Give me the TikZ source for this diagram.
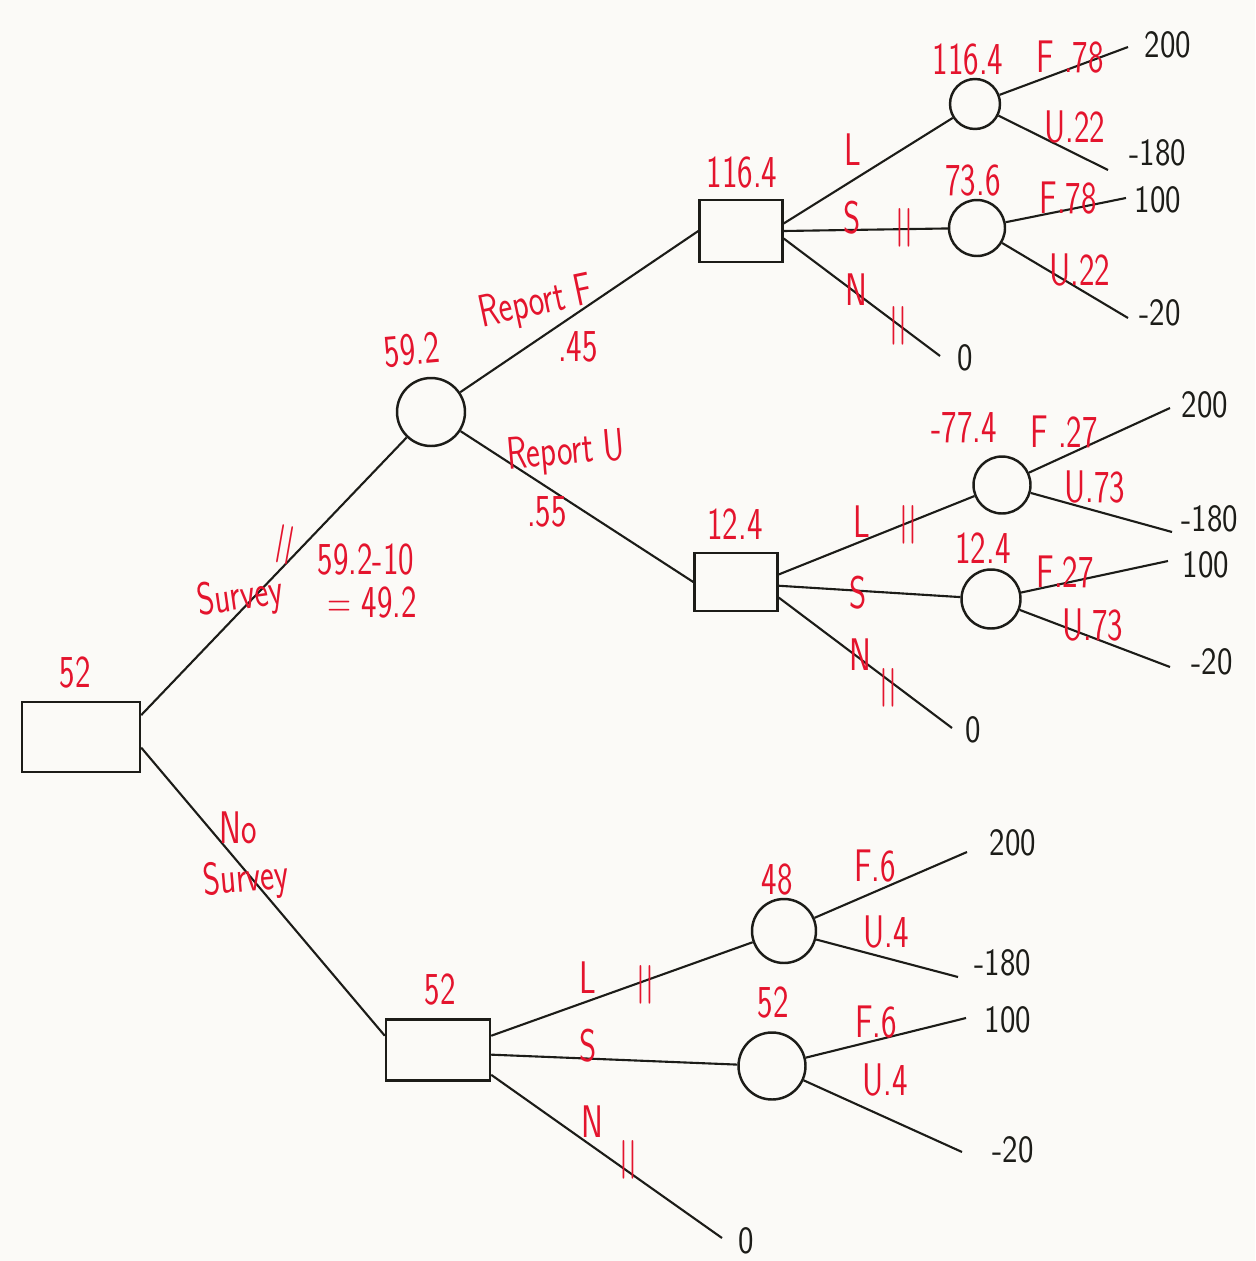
\documentclass[tikz,border=0pt]{standalone}
\usepackage{fontspec}
\usepackage{graphicx}
\definecolor{ink}{RGB}{28,28,24}
\definecolor{pen}{RGB}{228,20,45}
\definecolor{paper}{RGB}{251,250,247}
\newcommand{\hw}[1]{\scalebox{0.72}[1]{#1}}
\newcommand{\hv}[1]{\scalebox{0.85}[1]{#1}}
\tikzset{
  x=0.02cm, y=-0.02cm,
  conn/.style={draw=ink, line width=1.2pt},
  decbox/.style={draw=ink, line width=1.4pt, rectangle, inner sep=0pt},
  chance/.style={draw=ink, line width=1.4pt, circle, inner sep=0pt},
  lab/.style={text=pen, font=\sffamily\fontsize{26}{28}\selectfont, inner sep=0pt},
  val/.style={text=ink, font=\sffamily\fontsize{22}{24}\selectfont, inner sep=0pt},
  tickmark/.style={text=pen, font=\sffamily\bfseries\fontsize{22}{24}\selectfont, inner sep=0pt}
}
\begin{document}
\begin{tikzpicture}
\fill[paper] (0,0) rectangle (1255,1261);
\useasboundingbox (0,0) rectangle (1255,1261);

% decision and chance nodes
\node[decbox, minimum width=2.36cm, minimum height=1.4cm] (D0) at (81,737) {};
\node[chance, minimum size=1.36cm] (C1) at (431,412) {};
\node[decbox, minimum width=1.66cm, minimum height=1.24cm] (D1) at (741,231) {};
\node[decbox, minimum width=1.66cm, minimum height=1.16cm] (D2) at (736,582) {};
\node[decbox, minimum width=2.08cm, minimum height=1.22cm] (D3) at (438,1050) {};
\node[chance, minimum size=1.0cm] (C2) at (975,104) {};
\node[chance, minimum size=1.12cm] (C3) at (977,228) {};
\node[chance, minimum size=1.14cm] (C4) at (1002,485) {};
\node[chance, minimum size=1.18cm] (C5) at (991,599) {};
\node[chance, minimum size=1.28cm] (C6) at (784,931) {};
\node[chance, minimum size=1.34cm] (C7) at (772,1066) {};

% end points
\coordinate (e1) at (1128,47);
\coordinate (e2) at (1108,170);
\coordinate (e3) at (1126,198);
\coordinate (e4) at (1128,318);
\coordinate (e5) at (940,356);
\coordinate (e6) at (1170,408);
\coordinate (e7) at (1172,532);
\coordinate (e8) at (1168,561);
\coordinate (e9) at (1170,667);
\coordinate (e10) at (952,728);
\coordinate (e11) at (967,852);
\coordinate (e12) at (958,977);
\coordinate (e13) at (966,1018);
\coordinate (e14) at (962,1152);
\coordinate (e15) at (722,1238);

% payoffs
\node[val] (v1) at (1168,45) {\hv{200}};
\node[val] (v2) at (1158,153) {\hv{-180}};
\node[val] (v3) at (1158,200) {\hv{100}};
\node[val] (v4) at (1160,313) {\hv{-20}};
\node[val] (v5) at (965,358) {\hv{0}};
\node[val] (v6) at (1205,405) {\hv{200}};
\node[val] (v7) at (1210,519) {\hv{-180}};
\node[val] (v8) at (1206,565) {\hv{100}};
\node[val] (v9) at (1212,662) {\hv{-20}};
\node[val] (v10) at (973,730) {\hv{0}};
\node[val] (v11) at (1013,843) {\hv{200}};
\node[val] (v12) at (1003,963) {\hv{-180}};
\node[val] (v13) at (1008,1020) {\hv{100}};
\node[val] (v14) at (1013,1150) {\hv{-20}};
\node[val] (v15) at (746,1241) {\hv{0}};

% connectors
\draw[conn] (D0.20) -- (C1);
\draw[conn] (D0.-10) -- (D3.165);
\draw[conn] (C1) -- (D1.west);
\draw[conn] (C1) -- (D2.west);
\draw[conn] (D1.10) -- (C2);
\draw[conn] (D1.0) -- (C3);
\draw[conn] (D1.-10) -- (e5);
\draw[conn] (C2) -- (e1);
\draw[conn] (C2) -- (e2);
\draw[conn] (C3) -- (e3);
\draw[conn] (C3) -- (e4);
\draw[conn] (D2.10) -- (C4);
\draw[conn] (D2.-5) -- (C5);
\draw[conn] (D2.-20) -- (e10);
\draw[conn] (C4) -- (e6);
\draw[conn] (C4) -- (e7);
\draw[conn] (C5) -- (e8);
\draw[conn] (C5) -- (e9);
\draw[conn] (D3.15) -- (C6);
\draw[conn] (D3.-5) -- (C7);
\draw[conn] (D3.-25) -- (e15);
\draw[conn] (C6) -- (e11);
\draw[conn] (C6) -- (e12);
\draw[conn] (C7) -- (e13);
\draw[conn] (C7) -- (e14);

% red labels
\node[lab] (l1) at (75,673) {\hw{52}};
\node[lab, rotate=8] (l2) at (240,598) {\hw{Survey}};
\node[tickmark, rotate=-10] (k1) at (285,545) {\hw{||}};
\node[lab] (l3) at (366,560) {\hw{59.2-10}};
\node[lab] (l4) at (372,603) {\hw{= 49.2}};
\node[lab] (l5) at (238,828) {\hw{No}};
\node[lab, rotate=5] (l6) at (246,880) {\hw{Survey}};
\node[lab, rotate=5] (l7) at (412,350) {\hw{59.2}};
\node[lab, rotate=12] (l8) at (536,304) {\hw{Report F}};
\node[lab] (l9) at (578,347) {\hw{.45}};
\node[lab, rotate=5] (l10) at (566,453) {\hw{Report U}};
\node[lab] (l11) at (547,512) {\hw{.55}};
\node[lab] (l12) at (742,173) {\hw{116.4}};
\node[lab] (l13) at (853,150) {\hw{L}};
\node[lab] (l14) at (852,218) {\hw{S}};
\node[tickmark] (k2) at (904,228) {\hw{||}};
\node[lab] (l15) at (856,290) {\hw{N}};
\node[tickmark] (k3) at (898,326) {\hw{||}};
\node[lab] (l16) at (968,60) {\hw{116.4}};
\node[lab] (l17) at (1070,57) {\hw{F .78}};
\node[lab] (l18) at (1075,127) {\hw{U.22}};
\node[lab] (l19) at (973,181) {\hw{73.6}};
\node[lab] (l20) at (1068,198) {\hw{F.78}};
\node[lab] (l21) at (1080,270) {\hw{U.22}};
\node[lab] (l22) at (735,524) {\hw{12.4}};
\node[lab] (l23) at (862,522) {\hw{L}};
\node[tickmark] (k4) at (908,525) {\hw{||}};
\node[lab] (l24) at (858,593) {\hw{S}};
\node[lab] (l25) at (860,655) {\hw{N}};
\node[tickmark] (k5) at (888,688) {\hw{||}};
\node[lab] (l26) at (964,428) {\hw{-77.4}};
\node[lab] (l27) at (1064,432) {\hw{F .27}};
\node[lab] (l28) at (1095,487) {\hw{U.73}};
\node[lab] (l29) at (983,548) {\hw{12.4}};
\node[lab] (l30) at (1065,572) {\hw{F.27}};
\node[lab] (l31) at (1093,625) {\hw{U.73}};
\node[lab] (l32) at (440,990) {\hw{52}};
\node[lab] (l33) at (588,978) {\hw{L}};
\node[tickmark] (k6) at (645,985) {\hw{||}};
\node[lab] (l34) at (588,1046) {\hw{S}};
\node[lab] (l35) at (592,1122) {\hw{N}};
\node[tickmark] (k7) at (628,1160) {\hw{||}};
\node[lab] (l36) at (777,880) {\hw{48}};
\node[lab] (l37) at (875,866) {\hw{F.6}};
\node[lab] (l38) at (886,932) {\hw{U.4}};
\node[lab] (l39) at (773,1003) {\hw{52}};
\node[lab] (l40) at (876,1022) {\hw{F.6}};
\node[lab] (l41) at (885,1080) {\hw{U.4}};
\end{tikzpicture}
\end{document}
